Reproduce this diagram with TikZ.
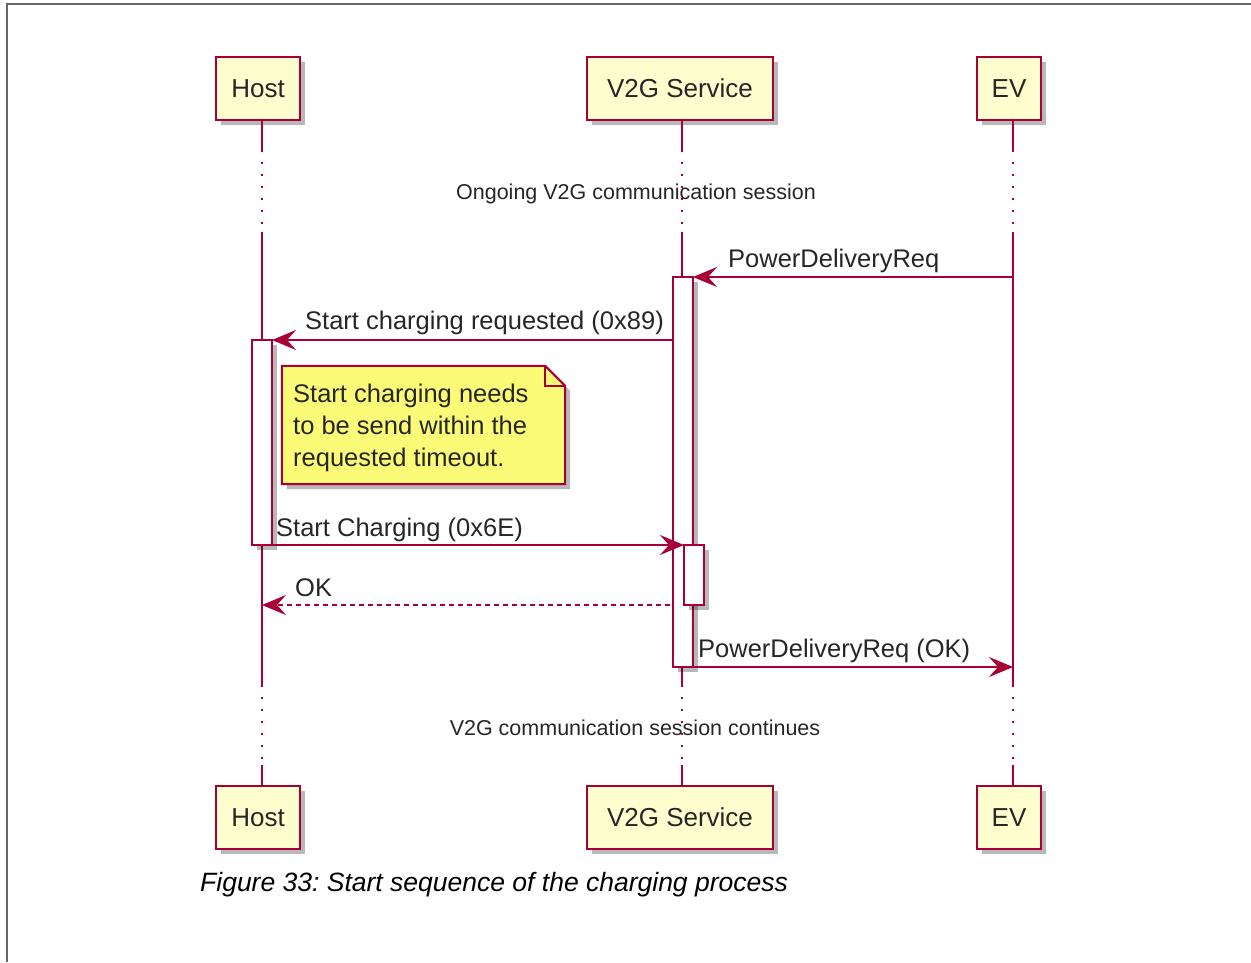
\documentclass[tikz,border=0pt]{standalone}
\usepackage{fontspec}
\setmainfont{Liberation Sans}
\usetikzlibrary{arrows.meta,shadows}
\definecolor{puml}{HTML}{A80036}
\definecolor{pfill}{HTML}{FEFECE}
\definecolor{notefill}{HTML}{FBFB77}
\frenchspacing
\tikzset{
  shad/.style={drop shadow={shadow xshift=5pt, shadow yshift=-5pt, fill=black, opacity=0.28}},
  part/.style={draw=puml, fill=pfill, line width=2pt, minimum height=63pt, inner sep=0pt,
    text depth=0pt, text height=18.5pt, font=\fontsize{26}{30}\selectfont, text=black!85, shad},
  act/.style={draw=puml, fill=white, line width=2pt, minimum width=20pt, inner sep=0pt,
    outer sep=0pt, shad},
  life/.style={draw=puml, line width=2pt},
  lifedot/.style={draw=puml, line width=2pt, dash pattern=on 2pt off 10pt},
  msg/.style={draw=puml, line width=2pt, -{Stealth[length=24pt,width=20pt,inset=9pt]}},
  retmsg/.style={msg, dash pattern=on 5pt off 4pt},
  lbl/.style={anchor=base west, inner sep=0pt, font=\fontsize{25.5}{30}\selectfont, text=black!85},
  divtxt/.style={inner sep=0pt, font=\fontsize{21.5}{26}\selectfont, text=black!85},
}
\begin{document}
\begin{tikzpicture}[x=1pt,y=-1pt]
\useasboundingbox (0,0) rectangle (1251,962);
% frame
\draw[line width=1.5pt, black!60] (7,962) -- (7,4) -- (1251,4);

% participants
\node[part, minimum width=84pt] (hostT) at (258,88.5) {Host};
\node[part, minimum width=186pt] (v2gT) at (680,88.5) {V2G Service};
\node[part, minimum width=64pt] (evT) at (1009,88.5) {EV};

% lifeline coordinates
\coordinate (h0) at (262,120);  \coordinate (h1) at (262,150);
\coordinate (h2) at (262,232);  \coordinate (h3) at (262,685);
\coordinate (h4) at (262,765);  \coordinate (h5) at (262,786);
\coordinate (v0) at (682,120);  \coordinate (v1) at (682,150);
\coordinate (v2) at (682,232);  \coordinate (v3) at (682,685);
\coordinate (v4) at (682,765);  \coordinate (v5) at (682,786);
\coordinate (e0) at (1013,120); \coordinate (e1) at (1013,150);
\coordinate (e2) at (1013,232); \coordinate (e3) at (1013,685);
\coordinate (e4) at (1013,765); \coordinate (e5) at (1013,786);

\draw[life] (h0) -- (h1); \draw[lifedot] (h1) -- (h2); \draw[life] (h2) -- (h3);
\draw[lifedot] (h3) -- (h4); \draw[life] (h4) -- (h5);
\draw[life] (v0) -- (v1); \draw[lifedot] (v1) -- (v2); \draw[life] (v2) -- (v3);
\draw[lifedot] (v3) -- (v4); \draw[life] (v4) -- (v5);
\draw[life] (e0) -- (e1); \draw[lifedot] (e1) -- (e2); \draw[life] (e2) -- (e3);
\draw[lifedot] (e3) -- (e4); \draw[life] (e4) -- (e5);

% bottom participants
\node[part, minimum width=84pt] (hostB) at (258,817) {Host};
\node[part, minimum width=186pt] (v2gB) at (680,817) {V2G Service};
\node[part, minimum width=64pt] (evB) at (1009,817) {EV};

% dividers
\node[divtxt] (div1) at (636,194) {Ongoing V2G communication session};
\node[divtxt] (div2) at (635,728) {V2G communication session continues};

% activations
\node[act, minimum height=390pt] (act1) at (683,472) {};
\node[act, minimum height=205pt] (hact) at (262,442.5) {};
\node[act, minimum height=60pt] (act2) at (694,575) {};

% note
\node[minimum width=283pt, minimum height=118pt, inner sep=0pt] (note) at (423.5,425) {};
\fill[black, opacity=0.28] ([shift={(5pt,-5pt)}]note.north west) -- ([shift={(-15pt,-5pt)}]note.north east)
  -- ([shift={(5pt,-25pt)}]note.north east) -- ([shift={(5pt,-5pt)}]note.south east)
  -- ([shift={(5pt,-5pt)}]note.south west) -- cycle;
\draw[puml, fill=notefill, line width=2pt] (note.north west) -- ([xshift=-20pt]note.north east)
  -- ([yshift=-20pt]note.north east) -- (note.south east) -- (note.south west) -- cycle;
\draw[puml, line width=2pt] ([xshift=-20pt]note.north east) -- ([xshift=-20pt,yshift=-20pt]note.north east)
  -- ([yshift=-20pt]note.north east);
\node[anchor=west, inner sep=0pt, align=left, font=\fontsize{25.5}{32}\selectfont, text=black!85]
  (notetext) at (293,428) {Start charging needs\\to be send within the\\requested timeout.};

% messages
\coordinate (m1s) at (1013,277);
\draw[msg] (m1s) -- (act1.north east);
\node[lbl] (l1) at (728,267) {PowerDeliveryReq};

\draw[msg] (act1.west |- hact.north) -- (hact.north east);
\node[lbl] (l2) at (305,329) {Start charging requested (0x89)};

\draw[msg] (hact.south east) -- (act2.north west);
\node[lbl] (l3) at (276,536) {Start Charging (0x6E)};

\coordinate (okEnd) at (262,605);
\draw[retmsg] ([xshift=-3pt]act1.west |- act2.south) -- (okEnd);
\node[lbl] (l4) at (295,596) {OK};

\coordinate (m5e) at (1013,667);
\draw[msg] (act1.south east) -- (m5e);
\node[lbl] (l5) at (698,657) {PowerDeliveryReq (OK)};

% caption
\node[anchor=base west, inner sep=0pt, font=\fontsize{26.5}{30}\selectfont\itshape] (cap) at (200,891)
  {Figure 33: Start sequence of the charging process};
\end{tikzpicture}
\end{document}
